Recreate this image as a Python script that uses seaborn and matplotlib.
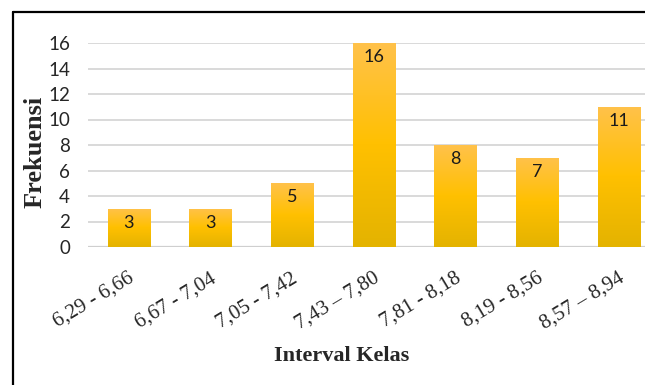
import numpy as np
import pandas as pd
import matplotlib
matplotlib.use('Agg')
import matplotlib.pyplot as plt
import matplotlib.transforms as mtransforms
from matplotlib.colors import LinearSegmentedColormap
from matplotlib.lines import Line2D
import seaborn as sns

# data
intervals = ['6,29 - 6,66', '6,67 - 7,04', '7,05 - 7,42', '7,43 \u2013 7,80',
             '7,81 - 8,18', '8,19 - 8,56', '8,57 \u2013 8,94']
frekuensi = [3, 3, 5, 16, 8, 7, 11]
y_ticks = [0, 2, 4, 6, 8, 10, 12, 14, 16]

df = pd.DataFrame({'interval': intervals, 'frekuensi': frekuensi})

sns.set_style('white')
plt.rcParams['font.family'] = ['Lato', 'DejaVu Sans']

fig = plt.figure(figsize=(6.45, 3.85), dpi=100)
ax = fig.add_axes([88 / 645, 138 / 385, 572 / 645, 204 / 385])

sns.barplot(data=df, x='interval', y='frekuensi', color='#FFC000',
            width=0.52, ax=ax, zorder=2)

# gradient fill on each bar, orange at top -> darker gold at bottom
grad = LinearSegmentedColormap.from_list('gold', ['#E4B300', '#FFC000', '#FFC24A'])
for patch in ax.patches:
    x0, y0 = patch.get_x(), patch.get_y()
    w, h = patch.get_width(), patch.get_height()
    img = ax.imshow(np.linspace(0, 1, 100).reshape(-1, 1), cmap=grad,
                    extent=[x0, x0 + w, y0, y0 + h], origin='lower',
                    aspect='auto', zorder=3)
    img.set_clip_path(patch)
    patch.set_edgecolor('none')

ax.set_xlim(-0.5, len(intervals) - 0.5)
ax.set_ylim(0, 16)
ax.set_yticks(y_ticks)
ax.yaxis.grid(True, color='#D9D9D9', linewidth=1.4, zorder=0)
ax.set_axisbelow(True)
sns.despine(ax=ax, left=True, bottom=True, top=True, right=True)
ax.axhline(0, color='#CFCFCF', linewidth=1.6, zorder=1)

ax.tick_params(axis='y', length=0, pad=13, labelsize=13.5)
ax.tick_params(axis='x', length=0, pad=0)

for lbl in ax.get_yticklabels():
    lbl.set_fontfamily('Lato')

ax.set_xticks(range(len(intervals)))
ax.set_xticklabels(intervals, rotation=31, ha='right', va='center',
                   rotation_mode='anchor', fontfamily='Liberation Serif',
                   fontsize=15)
offset = mtransforms.ScaledTranslation(4 / 100, -30 / 100, fig.dpi_scale_trans)
for lbl in ax.get_xticklabels():
    lbl.set_transform(lbl.get_transform() + offset)

for cont in ax.containers:
    ax.bar_label(cont, labels=[str(v) for v in frekuensi], padding=-16,
                 fontsize=13, color='#1A1A1A', zorder=5)

ax.set_xlabel('')
ax.set_ylabel('')
fig.text(342 / 645, 1 - 356 / 385, 'Interval Kelas', ha='center', va='center',
         fontfamily='Liberation Serif', fontweight='bold', fontsize=16)
fig.text(35 / 645, 1 - 152 / 385, 'Frekuensi', ha='center', va='center',
         rotation=90, fontfamily='Liberation Serif', fontweight='bold',
         fontsize=19)

# outer frame (left and top edges only visible)
fl = 13 / 645
ft = 1 - 12 / 385
fig.add_artist(Line2D([fl, fl], [0, ft], color='black', linewidth=1.6,
                      transform=fig.transFigure))
fig.add_artist(Line2D([fl, 1], [ft, ft], color='black', linewidth=1.6,
                      transform=fig.transFigure))

fig.savefig('out.png', dpi=100)
